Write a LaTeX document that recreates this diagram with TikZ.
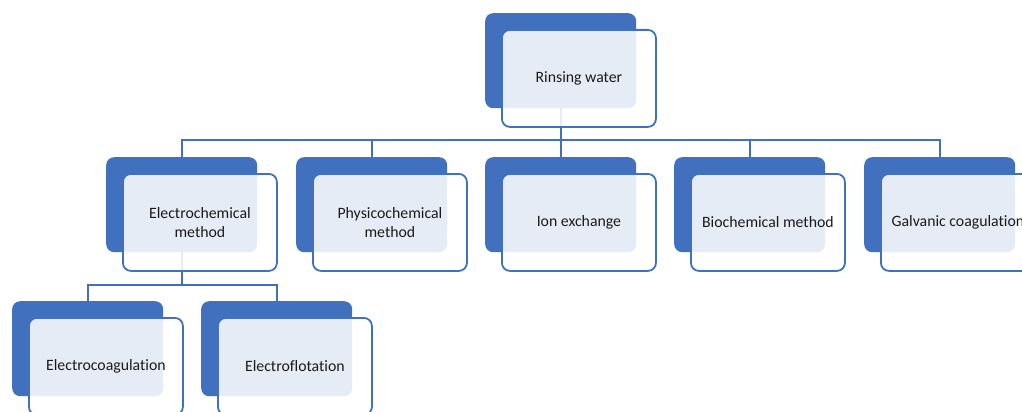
\documentclass[tikz,border=0pt]{standalone}
\usepackage{fontspec}
\setmainfont[Ligatures={NoCommon,NoRare}]{Carlito}
\usepackage{tikz}
\usetikzlibrary{positioning}
\definecolor{boxblue}{HTML}{4170BE}
\definecolor{labelgray}{HTML}{1A1A1A}

\begin{document}
\begin{tikzpicture}[x=1pt, y=-1pt,
    backbox/.style={fill=boxblue, rounded corners=8pt, minimum width=151pt, minimum height=95pt, inner sep=0pt, anchor=north west},
    frontbox/.style={draw=boxblue, line width=1.8pt, fill=white, fill opacity=0.87, text opacity=1, rounded corners=8pt, minimum width=154pt, minimum height=97pt, inner sep=2pt, anchor=north west, align=center, text=labelgray, font=\fontsize{15.8}{18.5}\selectfont},
    link/.style={draw=boxblue, line width=1.8pt}]

    \useasboundingbox (0,0) rectangle (1022,412);
    \clip (0,0) rectangle (1022,412);

    % back boxes
    \node[backbox] (rinseb) at (485,13) {};
    \foreach \x/\n in {106/echem, 296/physchem, 485/ionex, 674/biochem, 864/galvan} {
        \node[backbox] (\n b) at (\x,157) {};
    }
    \foreach \x/\n in {12/ecoag, 201/eflot} {
        \node[backbox] (\n b) at (\x,301) {};
    }

    % bus lines
    \coordinate (bus1) at (0,140);
    \coordinate (bus2) at (0,285);
    \foreach \n in {echem, physchem, ionex, biochem, galvan} {
        \path[link] (rinseb.south) -- (rinseb.south |- bus1) -| (\n b.north);
    }
    \foreach \n in {ecoag, eflot} {
        \path[link] (echemb.south) -- (echemb.south |- bus2) -| (\n b.north);
    }

    % front boxes
    \node[frontbox] (rinse) at ([shift={(16,16)}]rinseb.north west) {Rinsing water};
    \foreach \n/\txt in {echem/{Electrochemical\\method}, physchem/{Physicochemical\\method}, ionex/{Ion exchange}, biochem/{Biochemical method}, galvan/{Galvanic coagulation}, ecoag/{Electrocoagulation}, eflot/{Electroflotation}} {
        \node[frontbox] (\n) at ([shift={(16,16)}]\n b.north west) {\txt};
    }

\end{tikzpicture}
\end{document}
